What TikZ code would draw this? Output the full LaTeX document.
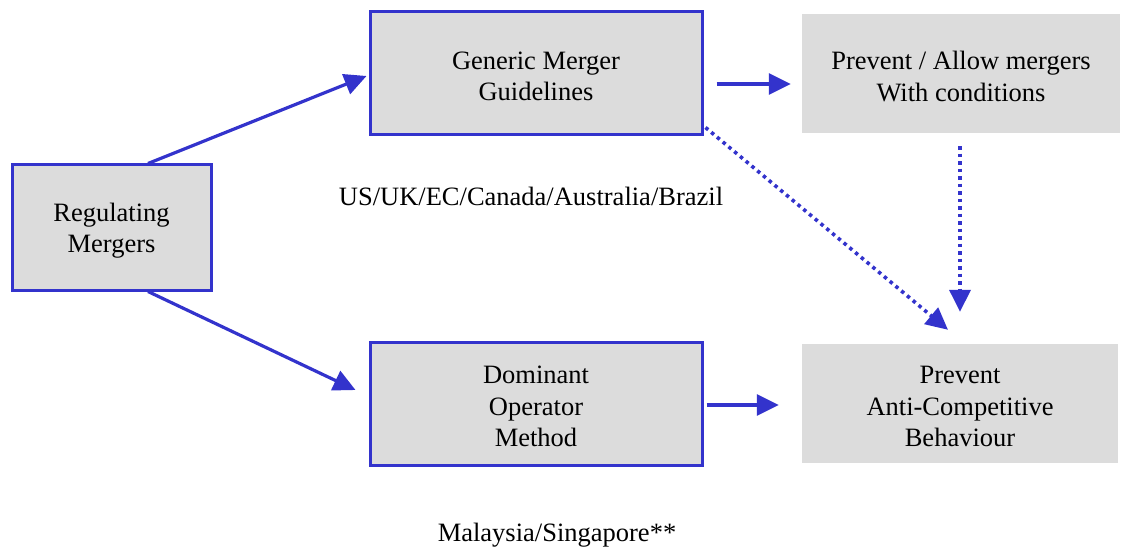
\documentclass[tikz,border=0pt]{standalone}
\usepackage{fontspec}
\setmainfont{Liberation Serif}
\usetikzlibrary{arrows.meta,calc}
\definecolor{lnblue}{HTML}{3333CC}
\definecolor{boxgray}{HTML}{DCDCDC}
\tikzset{
  txt/.style={align=center,inner sep=0pt,font=\fontsize{26.5}{31.5}\selectfont,yshift=-3pt},
  bbox/.style={draw=lnblue,line width=3pt,fill=boxgray,inner sep=0pt},
  gbox/.style={fill=boxgray,inner sep=0pt},
  arr/.style={draw=lnblue,line width=3.2pt,-{Triangle[length=22pt,width=21pt]}},
  darr/.style={arr,line width=3.6pt,dash pattern=on 3.5pt off 4pt},
  lbl/.style={font=\fontsize{26.5}{30}\selectfont,inner sep=0pt}
}
\begin{document}
\begin{tikzpicture}[x=1pt,y=-1pt]
\useasboundingbox (0,0) rectangle (1123,548);
\node[bbox,minimum width=199pt,minimum height=125pt,label={[txt]center:{Regulating\\Mergers}}] (reg) at (111.5,227.5) {};
\node[bbox,minimum width=332pt,minimum height=123pt,label={[txt]center:{Generic Merger\\Guidelines}}] (gen) at (536,73.5) {};
\node[bbox,minimum width=332pt,minimum height=123pt,label={[txt]center:{Dominant\\Operator\\Method}}] (dom) at (536,403.5) {};
\node[gbox,minimum width=318pt,minimum height=119pt,label={[txt]center:{Prevent / Allow mergers\\With conditions}}] (prev) at (961,73.5) {};
\node[gbox,minimum width=316pt,minimum height=119pt,label={[txt]center:{Prevent\\Anti-Competitive\\Behaviour}}] (anti) at (960,403.5) {};
\node[lbl] (us) at (531,196) {US/UK/EC/Canada/Australia/Brazil};
\node[lbl] (my) at (557,535) {Malaysia/Singapore**};
\draw[arr] ([xshift=36.5pt]reg.north) -- ([shift={(-2pt,-2.5pt)}]gen.west);
\draw[arr] ([xshift=36.5pt]reg.south) -- ([shift={(-13pt,13.5pt)}]dom.west);
\draw[arr] ([shift={(13pt,-10.5pt)}]gen.east) -- ([shift={(-11pt,-10.5pt)}]prev.west);
\draw[arr] ([shift={(3pt,-1.5pt)}]dom.east) -- ([shift={(-23pt,-1.5pt)}]anti.west);
\draw[darr] ([shift={(-1pt,-13pt)}]prev.south) -- ([yshift=32pt]anti.north);
\draw[darr] ([shift={(2pt,9pt)}]gen.south east) -- ([shift={(-12pt,14pt)}]anti.north);
\end{tikzpicture}
\end{document}
